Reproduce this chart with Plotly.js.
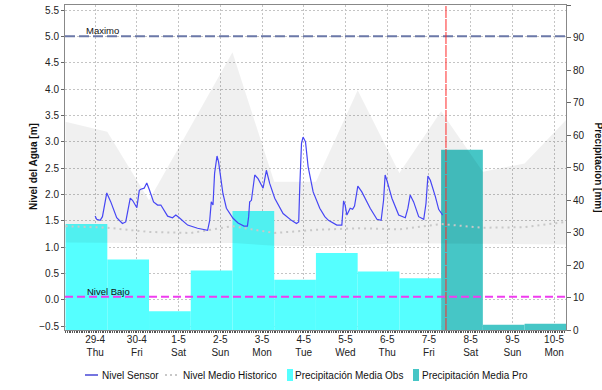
<!DOCTYPE html>
<html><head><meta charset="utf-8">
<script src="https://cdn.plot.ly/plotly-3.0.1.min.js"></script>
<style>html,body{margin:0;padding:0;background:#fff}#chart{width:602px;height:390px}</style>
</head><body><div id="chart"></div>
<script>
// ---- data ----
const DIAS = ['2021-04-28','2021-04-29','2021-04-30','2021-05-01','2021-05-02','2021-05-03','2021-05-04',
              '2021-05-05','2021-05-06','2021-05-07','2021-05-08','2021-05-09','2021-05-10'];
const PRECIP_OBS = [32.6, 21.7, 5.8, 18.3, 36.6, 15.5, 23.7, 18.0, 15.9];   // 28-4 .. 6-5
const PRECIP_PRO = [55.5, 1.6, 1.9];                                         // 7-5 .. 9-5
const BANDA_SUP = [3.38, 3.19, 1.89, 3.30, 4.70, 2.24, 2.24, 3.98, 2.41, 3.58, 2.43, 2.59, 3.42];
const BANDA_INF = [1.09, 1.08, 1.07, 1.07, 1.08, 1.03, 1.02, 1.05, 1.07, 1.07, 1.06, 1.05, 1.05];
const HISTORICO = [1.40, 1.37, 1.29, 1.27, 1.40, 1.27, 1.33, 1.36, 1.34, 1.44, 1.37, 1.38, 1.48];
const SENSOR_HORAS = [0.0,0.9,2.9,4.2,6.7,9.0,12.4,15.7,17.6,20.2,21.5,24.0,25.4,26.3,28.2,29.7,31.3,33.6,35.9,37.8,
  41.7,44.5,46.4,48.4,53.2,58.9,64.7,65.9,66.8,67.8,68.7,70.1,71.0,73.5,75.5,79.3,82.2,85.6,87.6,88.3,88.9,89.9,
  91.8,93.7,96.6,98.5,100.4,103.3,108.1,112.9,115.8,117.1,117.7,118.7,119.6,121.0,122.5,125.4,129.2,132.1,134.2,
  139.0,141.9,142.9,143.8,144.8,146.7,148.1,149.2,151.1,153.4,158.2,162.1,164.5,165.9,166.8,167.8,170.7,174.6,
  178.4,179.9,181.2,183.2,186.1,189.0,190.3,191.4,192.8,195.7,197.6,199.9];
const SENSOR_NIVEL = [1.59,1.53,1.51,1.58,2.03,1.86,1.56,1.45,1.48,1.93,1.89,1.75,2.08,2.10,2.12,2.22,2.08,1.86,1.80,1.80,
  1.59,1.56,1.61,1.56,1.42,1.36,1.32,1.51,1.86,1.80,2.40,2.73,2.62,2.02,1.74,1.55,1.46,1.40,1.40,1.58,1.86,1.89,
  2.37,2.30,2.12,2.46,2.21,1.93,1.64,1.51,1.45,1.48,2.15,2.97,3.09,3.00,2.53,2.05,1.74,1.58,1.51,
  1.42,1.42,1.88,1.80,1.61,1.74,1.72,1.78,2.16,2.05,1.74,1.53,1.51,1.89,2.37,2.27,1.93,1.61,
  1.56,1.74,1.99,1.86,1.58,1.53,1.83,2.35,2.27,1.96,1.72,1.61];
const SENSOR_INICIO = '2021-04-29';
const TICK_FECHA = ['29-4','30-4','1-5','2-5','3-5','4-5','5-5','6-5','7-5','8-5','9-5','10-5'];
const TICK_SEMANA = ['Thu','Fri','Sat','Sun','Mon','Tue','Wed','Thu','Fri','Sat','Sun','Mon'];
const NIVEL_MAXIMO = 5.0;
const NIVEL_BAJO = 0.06;
const AHORA = '2021-05-07 09:48';

// ---- helpers ----
function fmt(ms){ return new Date(ms).toISOString().replace('T',' ').slice(0,19); }
const t0 = Date.parse(SENSOR_INICIO + 'T00:00:00Z');
const sensorX = SENSOR_HORAS.map(h => fmt(t0 + h*3600000));
const limites = DIAS.map(d => d + ' 07:00');
const centros = DIAS.slice(0,12).map(d => d + ' 19:00');
const DAY = 86400000;

const FONT = 'Liberation Sans, Arial, sans-serif';
const C_OBS = '#55FFFF', C_PRO = '#46C6C6';

const traces = [
  {type:'bar', name:'Precipitación Media Obs', x:centros.slice(0,PRECIP_OBS.length), y:PRECIP_OBS,
   width:Array(PRECIP_OBS.length).fill(DAY), marker:{color:C_OBS, line:{width:0}}, yaxis:'y', showlegend:false},
  {type:'bar', name:'Precipitación Media Pro', x:centros.slice(PRECIP_OBS.length), y:PRECIP_PRO,
   width:Array(PRECIP_PRO.length).fill(DAY), marker:{color:C_PRO, line:{width:0}}, yaxis:'y', showlegend:false},
  {type:'scatter', mode:'lines', x:limites, y:BANDA_INF, yaxis:'y2', line:{width:0}, hoverinfo:'skip', showlegend:false},
  {type:'scatter', mode:'lines', x:limites, y:BANDA_SUP, yaxis:'y2', line:{width:0}, fill:'tonexty',
   fillcolor:'rgba(0,0,0,0.06)', hoverinfo:'skip', showlegend:false},
  {type:'scatter', mode:'lines', name:'Nivel Medio Historico', x:limites, y:HISTORICO, yaxis:'y2',
   line:{color:'#C8C8C8', width:2, dash:'2px,4px'}, showlegend:false},
  {type:'scatter', mode:'lines', name:'Nivel Sensor', x:sensorX, y:SENSOR_NIVEL, yaxis:'y2',
   line:{color:'#4646F4', width:1.2}, showlegend:false}
];

const tickvals = DIAS.slice(1).map(d => d + ' 00:00');
const ticktext = TICK_FECHA.map((f,i) => f + '<br>' + TICK_SEMANA[i]);

const L = 65, R = 566, T = 5, B = 330;
const px = v => (v - L)/(R - L);
const py = v => (B - v)/(B - T);

const shapes = [
  {type:'line', xref:'paper', x0:0, x1:1, yref:'y2', y0:NIVEL_MAXIMO, y1:NIVEL_MAXIMO,
   line:{color:'#6B78A8', width:2, dash:'10px,4px'}, layer:'above'},
  {type:'line', xref:'paper', x0:0, x1:1, yref:'y2', y0:NIVEL_BAJO, y1:NIVEL_BAJO,
   line:{color:'#F03CF0', width:2, dash:'8px,4px'}, layer:'above'},
  {type:'line', xref:'x', x0:AHORA, x1:AHORA, yref:'paper', y0:0, y1:1,
   line:{color:'#FF2A2A', width:1, dash:'12px,1px'}, layer:'above'},
  // custom legend symbols
  {type:'line', xref:'paper', yref:'paper', x0:px(85), x1:px(98), y0:py(375), y1:py(375), line:{color:'#2a2ad0', width:1.3}},
  {type:'line', xref:'paper', yref:'paper', x0:px(165), x1:px(180), y0:py(375), y1:py(375), line:{color:'#C8C8C8', width:2, dash:'2px,3px'}},
  {type:'rect', xref:'paper', yref:'paper', x0:px(287), x1:px(293), y0:py(369), y1:py(381), fillcolor:C_OBS, line:{width:0}},
  {type:'rect', xref:'paper', yref:'paper', x0:px(413), x1:px(419), y0:py(369), y1:py(381), fillcolor:C_PRO, line:{width:0}}
];

const annFont = {family:FONT, size:10, color:'#111'};
const annotations = [
  {xref:'paper', yref:'y2', x:px(84), y:NIVEL_MAXIMO, text:'Maximo', showarrow:false, xanchor:'left', yanchor:'bottom', yshift:-2, font:{family:FONT,size:9.5,color:'#111'}},
  {xref:'paper', yref:'y2', x:px(85), y:NIVEL_BAJO, text:'Nivel Bajo', showarrow:false, xanchor:'left', yanchor:'bottom', yshift:-2, font:{family:FONT,size:9.5,color:'#111'}},
  {xref:'paper', yref:'paper', x:px(33), y:py(167), text:'<b>Nivel del Agua [m]</b>', textangle:-90, showarrow:false, xanchor:'center', yanchor:'middle', font:annFont},
  {xref:'paper', yref:'paper', x:px(598), y:0.5, text:'<b>Precipitación [mm]</b>', textangle:90, showarrow:false, xanchor:'center', yanchor:'middle', font:annFont},
  {xref:'paper', yref:'paper', x:px(100), y:py(375), text:'Nivel Sensor', showarrow:false, xanchor:'left', yanchor:'middle', font:annFont},
  {xref:'paper', yref:'paper', x:px(181), y:py(375), text:'Nivel Medio Historico', showarrow:false, xanchor:'left', yanchor:'middle', font:annFont},
  {xref:'paper', yref:'paper', x:px(293), y:py(375), text:'Precipitación Media Obs', showarrow:false, xanchor:'left', yanchor:'middle', font:annFont},
  {xref:'paper', yref:'paper', x:px(420), y:py(375), text:'Precipitación Media Pro', showarrow:false, xanchor:'left', yanchor:'middle', font:annFont}
];

const tickFont = {family:FONT, size:10, color:'#222'};
const layout = {
  width:602, height:390,
  margin:{l:L, r:602-R, t:T, b:390-B, pad:0},
  paper_bgcolor:'#fff', plot_bgcolor:'#fff',
  showlegend:false, barmode:'overlay',
  font:{family:FONT, size:10, color:'#222'},
  xaxis:{type:'date', range:['2021-04-28 06:40','2021-05-10 06:50'],
    tickmode:'array', tickvals:tickvals, ticktext:ticktext, tickfont:tickFont, ticks:'',
    showgrid:true, gridcolor:'#C4C4C4', griddash:'2px,2px', gridwidth:1,
    showline:true, linecolor:'#888', linewidth:1, mirror:true, zeroline:false,
    minor:{tickmode:'linear', tick0:'2021-04-28 00:00', dtick:3600000, ticks:'outside', ticklen:2, tickcolor:'#555', tickwidth:1, showgrid:false}},
  yaxis:{side:'right', range:[0,100], dtick:10, tick0:0, ticks:'outside', ticklen:4, tickcolor:'#666',
    showgrid:false, zeroline:false, showline:true, linecolor:'#888', tickfont:tickFont},
  yaxis2:{side:'left', overlaying:'y', range:[-0.57,5.595], tickmode:'array',
    tickvals:[-0.5,0,0.5,1,1.5,2,2.5,3,3.5,4,4.5,5,5.5], tickformat:'.1f',
    ticks:'outside', ticklen:3, tickcolor:'#666', tickfont:tickFont,
    showgrid:true, gridcolor:'#C4C4C4', griddash:'2px,2px', gridwidth:1,
    zeroline:false, showline:true, linecolor:'#888'},
  shapes:shapes, annotations:annotations
};

Plotly.newPlot('chart', traces, layout, {staticPlot:true, displayModeBar:false});
</script></body></html>
